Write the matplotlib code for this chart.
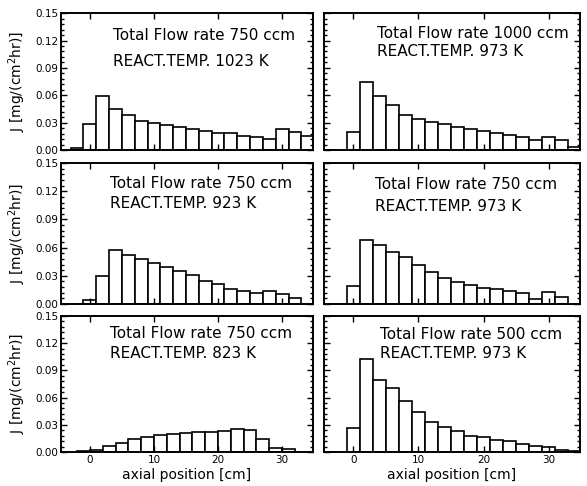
import matplotlib
matplotlib.use("Agg")
import matplotlib.pyplot as plt
from matplotlib.ticker import MultipleLocator, FixedLocator

# bin centres along the reactor [cm] and deposition flux J [mg/(cm2 hr)]
pos_750_1023 = [-2, 0, 2, 4, 6, 8, 10, 12, 14, 16, 18, 20, 22, 24, 26, 28, 30, 32, 34]
j_750_1023 = [0.002, 0.0285, 0.0598, 0.0455, 0.0385, 0.0315, 0.0295, 0.0273, 0.0256,
              0.0234, 0.0213, 0.019, 0.0184, 0.0158, 0.0145, 0.0127, 0.0233, 0.0201, 0.0153]

pos_1000_973 = [0, 2, 4, 6, 8, 10, 12, 14, 16, 18, 20, 22, 24, 26, 28, 30, 32, 34]
j_1000_973 = [0.0195, 0.0745, 0.059, 0.049, 0.0383, 0.034, 0.0311, 0.0282, 0.0257,
              0.0235, 0.0213, 0.0192, 0.017, 0.0148, 0.0116, 0.0148, 0.0112, 0.0033]

pos_750_923 = [0, 2, 4, 6, 8, 10, 12, 14, 16, 18, 20, 22, 24, 26, 28, 30, 32]
j_750_923 = [0.0045, 0.0298, 0.057, 0.052, 0.048, 0.044, 0.0396, 0.035, 0.031,
             0.024, 0.021, 0.0157, 0.0134, 0.0115, 0.0138, 0.0105, 0.0068]

pos_750_973 = [0, 2, 4, 6, 8, 10, 12, 14, 16, 18, 20, 22, 24, 26, 28, 30, 32]
j_750_973 = [0.0195, 0.068, 0.063, 0.055, 0.0495, 0.042, 0.034, 0.0276, 0.0234,
             0.020, 0.0174, 0.0164, 0.0136, 0.0112, 0.0058, 0.0127, 0.0075]

pos_750_823 = [-1, 1, 3, 5, 7, 9, 11, 13, 15, 17, 19, 21, 23, 25, 27, 29, 31]
j_750_823 = [0.0008, 0.0022, 0.0066, 0.0098, 0.0143, 0.0164, 0.0185, 0.0199, 0.0209,
             0.022, 0.022, 0.023, 0.0251, 0.0237, 0.014, 0.0045, 0.0028]

pos_500_973 = [0, 2, 4, 6, 8, 10, 12, 14, 16, 18, 20, 22, 24, 26, 28, 30, 32, 34]
j_500_973 = [0.0264, 0.103, 0.079, 0.070, 0.056, 0.0443, 0.0325, 0.0275, 0.0229,
             0.0175, 0.0161, 0.0132, 0.0125, 0.0089, 0.0061, 0.0054, 0.0018, 0.0007]

flow_labels = ["Total Flow rate 750 ccm", "Total Flow rate 1000 ccm",
               "Total Flow rate 750 ccm", "Total Flow rate 750 ccm",
               "Total Flow rate 750 ccm", "Total Flow rate 500 ccm"]
temp_labels = ["REACT.TEMP. 1023 K", "REACT.TEMP. 973 K",
               "REACT.TEMP. 923 K", "REACT.TEMP. 973 K",
               "REACT.TEMP. 823 K", "REACT.TEMP. 973 K"]

y_ticks = [0.00, 0.03, 0.06, 0.09, 0.12, 0.15]
x_ticks = [0, 10, 20, 30]

panels = [(pos_750_1023, j_750_1023), (pos_1000_973, j_1000_973),
          (pos_750_923, j_750_923), (pos_750_973, j_750_973),
          (pos_750_823, j_750_823), (pos_500_973, j_500_973)]

# axes rectangles (figure fractions) and text placement (axes fractions)
col_left = [(0.104, 0.429), (0.552, 0.436)]
row_bottom = [(0.691, 0.282), (0.3745, 0.290), (0.070, 0.280)]
text_pos = [(0.206, 0.834, 0.645), (0.207, 0.852, 0.717),
            (0.194, 0.856, 0.714), (0.199, 0.851, 0.695),
            (0.194, 0.873, 0.726), (0.219, 0.860, 0.726)]

fig = plt.figure(figsize=(5.87, 4.86), dpi=100)

for i, (pos, vals) in enumerate(panels):
    row, col = divmod(i, 2)
    l, w = col_left[col]
    b, h = row_bottom[row]
    ax = fig.add_axes([l, b, w, h])

    ax.bar(pos, vals, width=2.0, color="white", edgecolor="black", linewidth=1.2)

    ax.set_xlim(-4.5, 34.8)
    ax.set_ylim(0, 0.15)
    ax.xaxis.set_major_locator(FixedLocator(x_ticks))
    ax.yaxis.set_major_locator(FixedLocator(y_ticks))
    ax.yaxis.set_minor_locator(MultipleLocator(0.006))
    ax.tick_params(which="both", direction="in", top=True, right=True, width=1.0)
    ax.tick_params(which="major", length=4, labelsize=7.5, pad=2)
    ax.tick_params(which="minor", length=2)
    for sp in ax.spines.values():
        sp.set_linewidth(1.4)

    if col == 0:
        ax.set_yticklabels([f"{t:.2f}" for t in y_ticks])
        ax.set_ylabel("J [mg/(cm$^2$hr)]", fontsize=10)
        ax.yaxis.set_label_coords(-0.13, 0.5)
    else:
        ax.set_yticklabels([])

    if row == 2:
        ax.set_xticklabels([str(t) for t in x_ticks])
        ax.set_xlabel("axial position [cm]", fontsize=10, labelpad=2)
    else:
        ax.set_xticklabels([])

    tx, ty1, ty2 = text_pos[i]
    ax.text(tx, ty1, flow_labels[i], transform=ax.transAxes, fontsize=11,
            ha="left", va="center")
    ax.text(tx, ty2, temp_labels[i], transform=ax.transAxes, fontsize=11,
            ha="left", va="center")

fig.savefig("out.png", dpi=100)
